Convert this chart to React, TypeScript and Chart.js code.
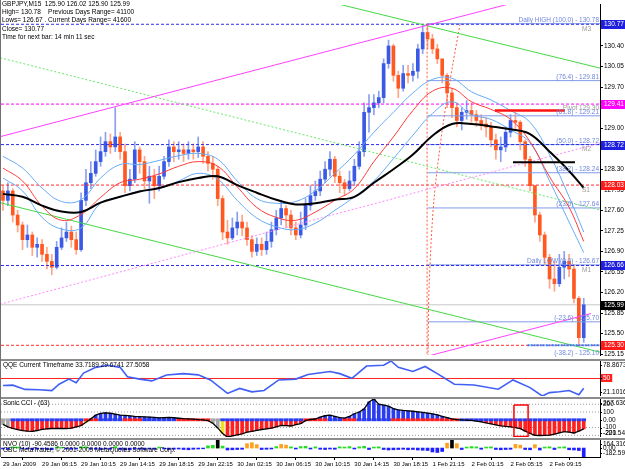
import React, { useEffect, useRef } from "react";
import { Chart, registerables } from "chart.js";

Chart.register(...registerables);

const FONT = '"Liberation Sans", Arial, Helvetica, sans-serif';
const CANVAS_W = 625;
const X_MIN = -0.82;
const X_MAX = 244.67;

// ---------------- time axis ----------------
const timeTickIdx = [0, 16, 32, 48, 64, 80, 96, 112, 128, 144, 160, 176, 192, 208, 224];
const timeTickLabels = [
  "29 Jan 2009", "29 Jan 06:15", "29 Jan 10:15", "29 Jan 14:15", "29 Jan 18:15",
  "29 Jan 22:15", "30 Jan 02:15", "30 Jan 06:15", "30 Jan 10:15", "30 Jan 14:15",
  "30 Jan 18:15", "1 Feb 21:15", "2 Feb 01:15", "2 Feb 05:15", "2 Feb 09:15",
];

const headerLines = [
  "GBPJPY,M15  125.90 126.02 125.90 125.99",
  "High= 130.78    Previous Days Range= 41100",
  "Lows= 126.67 . Current Days Range= 41600",
  "Close= 130.77",
  "Time for next bar: 14 min 11 sec",
];

// ---------------- price candles ----------------
const firstOpen = 127.93;
const closes = [
  127.77, 127.93, 127.52, 127.35, 127.10, 127.18, 126.97, 127.02, 126.85, 126.73,
  126.63, 126.97, 127.13, 127.23, 127.10, 126.93, 127.77, 128.07, 128.23, 128.43,
  128.60, 128.77, 128.68, 128.85, 128.60, 128.02, 128.13, 128.63, 128.43, 128.10,
  128.18, 128.02, 128.18, 128.43, 128.68, 128.60, 128.63, 128.57, 128.63, 128.60,
  128.68, 128.52, 128.40, 128.30, 127.80, 127.23, 127.13, 127.30, 127.40, 127.30,
  127.10, 126.90, 127.02, 126.93, 127.07, 127.27, 127.47, 127.63, 127.52, 127.30,
  127.18, 127.35, 127.68, 127.85, 127.93, 128.13, 128.30, 128.47, 128.18, 128.07,
  127.97, 128.10, 128.35, 128.60, 129.27, 129.35, 129.43, 129.52, 130.10, 130.40,
  129.90, 129.68, 129.93, 129.90, 129.97, 130.35, 130.63, 130.52, 130.35, 130.18,
  129.90, 129.60, 129.35, 129.13, 129.27, 129.30, 129.23, 129.13, 129.07, 129.02,
  128.80, 128.63, 128.68, 128.93, 129.13, 129.10, 128.77, 128.47, 128.02, 127.52,
  127.18, 126.80, 126.43, 126.35, 126.63, 126.73, 126.60, 126.10, 125.43, 125.99,
];
const highs = [
  128.02, 128.07, 127.97, 127.60, 127.40, 127.35, 127.23, 127.13, 127.10, 126.97,
  126.85, 127.07, 127.30, 127.40, 127.33, 127.23, 127.90, 128.30, 128.43, 128.63,
  128.85, 128.93, 128.90, 129.35, 128.93, 128.73, 128.30, 128.77, 128.68, 128.52,
  128.35, 128.30, 128.35, 128.52, 128.80, 128.77, 128.77, 128.73, 128.77, 128.73,
  128.85, 128.77, 128.60, 128.52, 128.35, 127.85, 127.43, 127.47, 127.57, 127.52,
  127.40, 127.17, 127.13, 127.13, 127.23, 127.40, 127.60, 127.77, 127.68, 127.60,
  127.40, 127.57, 127.80, 128.02, 128.10, 128.27, 128.43, 128.60, 128.52, 128.27,
  128.13, 128.27, 128.47, 128.77, 129.43, 129.57, 129.57, 129.63, 130.18, 130.50,
  130.43, 129.97, 130.07, 130.07, 130.10, 130.43, 130.77, 130.77, 130.60, 130.43,
  130.18, 129.93, 129.68, 129.43, 129.35, 129.47, 129.43, 129.30, 129.23, 129.18,
  129.10, 128.90, 128.85, 129.02, 129.23, 129.27, 129.13, 128.80, 128.52, 128.02,
  127.57, 127.23, 126.85, 126.73, 126.85, 126.90, 126.85, 126.68, 126.13, 126.10,
];
const lows = [
  127.60, 127.68, 127.40, 127.23, 126.93, 126.97, 126.83, 126.80, 126.73, 126.60,
  126.50, 126.60, 126.93, 127.07, 126.97, 126.85, 126.90, 127.68, 127.97, 128.18,
  128.35, 128.52, 128.57, 128.60, 128.47, 127.90, 127.93, 128.07, 128.23, 127.97,
  127.72, 127.80, 127.93, 128.13, 128.35, 128.43, 128.47, 128.43, 128.47, 128.47,
  128.50, 128.40, 128.27, 128.13, 127.68, 127.10, 127.02, 127.10, 127.18, 127.17,
  127.00, 126.80, 126.83, 126.83, 126.85, 126.97, 127.18, 127.35, 127.30, 127.18,
  127.10, 127.13, 127.27, 127.60, 127.77, 127.85, 128.07, 128.18, 128.07, 127.90,
  127.85, 127.93, 128.02, 128.30, 128.52, 128.93, 129.23, 129.35, 129.43, 130.02,
  129.80, 129.52, 129.63, 129.77, 129.80, 129.85, 130.27, 130.35, 130.27, 130.10,
  129.77, 129.35, 129.18, 129.02, 128.97, 129.15, 129.10, 129.03, 128.97, 128.85,
  128.68, 128.47, 128.43, 128.60, 128.85, 128.97, 128.63, 128.35, 127.93, 127.40,
  127.07, 126.68, 126.27, 126.22, 126.30, 126.43, 126.47, 126.02, 125.30, 125.35,
];
const candleIdx = closes.map((_, i) => i * 2);

// ---------------- moving averages / bands (read every 8 bars) ----------------
const maIdx = [0, 8, 16, 24, 32, 40, 48, 56, 64, 72, 80, 88, 96, 104, 112, 120, 128, 136, 144, 152, 160, 168, 176, 184, 192, 200, 208, 216, 224, 232, 238];
const maBlack = [127.88, 127.83, 127.68, 127.58, 127.57, 127.73, 127.83, 127.92, 127.98, 128.08, 128.15, 128.18, 128.03, 127.90, 127.78, 127.70, 127.72, 127.78, 127.83, 128.07, 128.30, 128.55, 128.87, 129.07, 129.07, 129.03, 128.98, 128.90, 128.60, 128.27, 127.98];
const maRed = [128.32, 128.10, 127.67, 127.43, 127.53, 127.82, 128.07, 128.13, 128.22, 128.35, 128.43, 128.35, 128.00, 127.65, 127.48, 127.43, 127.57, 127.77, 127.97, 128.43, 128.85, 129.30, 129.63, 129.68, 129.45, 129.32, 129.15, 128.77, 128.17, 127.65, 127.07];
const bandUpper = [128.52, 128.32, 127.98, 127.75, 127.78, 128.15, 128.38, 128.38, 128.45, 128.53, 128.57, 128.47, 128.10, 127.80, 127.72, 127.75, 127.93, 128.23, 128.55, 128.93, 129.27, 129.60, 129.83, 129.85, 129.62, 129.48, 129.30, 129.10, 128.55, 127.83, 127.23];
const bandLower = [128.15, 127.93, 127.48, 127.28, 127.30, 127.72, 127.83, 127.93, 127.97, 128.10, 128.23, 128.13, 127.77, 127.47, 127.32, 127.27, 127.38, 127.60, 127.83, 128.10, 128.48, 128.88, 129.25, 129.45, 129.23, 129.15, 128.97, 128.75, 128.10, 127.40, 126.88];

const priceTicks = [125.15, 125.5, 125.85, 126.2, 126.55, 126.9, 127.25, 127.6, 127.95, 128.3, 128.65, 129.0, 129.35, 129.7, 130.05, 130.4, 130.75];
const PRICE_MIN = 125.133;
const PRICE_MAX = 131.1;

const levelPrices = [130.77, 129.41, 128.72, 128.03, 126.66, 125.3];
const levelColors = ["#2b2be8", "#ff00ff", "#2b2be8", "#ff2b2b", "#2b2be8", "#ff2b2b"];
const fibPrices = [130.78, 129.81, 129.21, 128.72, 128.24, 127.64, 126.67, 125.7, 125.1];
const fibTexts = [
  "Daily HIGH (100.0) - 130.78", "(76.4) - 129.81", "(61.8) - 129.21", "(50.0) - 128.72",
  "(38.2) - 128.24", "(23.6) - 127.64", "Daily LOW (0.0) - 126.67", "(-23.6) - 125.70", "(-38.2) - 125.10",
];
const fibStart = 174;
const axisBoxPrices = [130.77, 129.41, 128.72, 128.03, 126.66, 125.99, 125.3];
const axisBoxColors = ["#1f1fe0", "#ff00ff", "#1f1fe0", "#ff1a1a", "#1f1fe0", "#000000", "#ff1a1a"];
const bidPrice = 125.99;
const pivotNames = ["M3", "M2", "S1", "M1"];
const pivotPrices = [130.77, 128.72, 128.03, 126.66];
const pivotLabel = "Pivot 129.30";
const pivotPrice = 129.3;

// trend lines as [bar index, price]
const channelUpper = [[-1.6, 128.85], [216, 131.21]];
const channelLower = [[168, 125.05], [241, 125.84]];
const channelMid = [[-1.2, 126.0], [245, 128.75]];
const greenUpper = [[134, 131.15], [245, 130.02]];
const greenLower = [[-1.2, 127.73], [245, 125.18]];
const greenDotted = [[-1.2, 130.2], [245, 127.6]];
const timeLine = [[173.8, 130.78], [173.8, 125.13]];
const fiboArc = [[187.3, 130.77], [184.4, 130.1], [180.3, 129.05], [176.6, 127.77], [174.6, 126.27], [174.2, 125.13]];
const pivotBar = [[201.6, 129.3], [230.3, 129.3]];
const supportBar = [[209, 128.42], [234.4, 128.42]];
const lowBar = [[215, 125.3], [245, 125.3]];

// ---------------- QQE ----------------
const qqeIdx = [0, 4, 9, 15, 20, 23, 27, 30, 33, 38, 43, 48, 51, 56, 61, 67, 74, 80, 85, 92, 97, 102, 107, 113, 120, 125, 134, 138, 143, 149, 156, 159, 162, 168, 173, 178, 185, 193, 203, 209, 216, 221, 224, 228, 232, 236, 238];
const qqeVal = [38.5, 39, 32, 31.5, 30, 40.6, 49, 43, 59, 68.4, 71.9, 68.4, 53, 49, 46, 55.9, 58, 56, 47.6, 25.3, 33.6, 28, 30.2, 47.6, 49, 56.6, 61.5, 58, 50.3, 70.5, 71.9, 78.8673, 68.4, 61.5, 69.8, 58, 40.6, 39.2, 32.2, 47.6, 35, 21.1016, 26.7, 28.1, 30.2, 23.2, 33.7189];
const qqeMax = 78.8673;
const qqeMin = 21.1016;
const qqeLevel = 50;

// ---------------- Sonic CCI ----------------
const cciVal = [
  -60, -90, -112, -128, -140, -147, -150, -138, -124, -118,
  -112, -110, -112, -114, -108, -92, -75, -32, 12, 60,
  82, 90, 84, 72, 60, 56, 50, 44, 40, 37,
  35, 31, 25, 28, 30, 26, 20, 15, 12, 8,
  2, -2, -10, -45, -105, -177, -221.5, -208, -195, -180,
  -160, -148, -135, -125, -116, -108, -90, -72, -74, -80,
  -62, -48, -12, 4, 10, 35, 52, 60, 45, 28,
  22, 45, 78, 100, 140, 230, 267.6, 200, 190, 175,
  145, 128, 120, 115, 110, 102, 95, 86, 76, 62,
  45, 28, 12, 2, -2, -4, -8, -16, -26, -40,
  -52, -65, -78, -85, -90, -102, -115, -145, -175, -200,
  -202, -200, -198, -185, -168, -152, -158, -170, -145, -118,
];
const cciColorRuns: [string, number][] = [["g", 2], ["r", 15], ["y", 1], ["b", 23], ["r", 2], ["g", 2], ["y", 1], ["r", 17], ["y", 1], ["b", 30], ["r", 26]];
const cciStripRuns: [string, number][] = [["g", 2], ["b", 15], ["r", 3], ["b", 5], ["r", 4], ["b", 7], ["r", 7], ["g", 2], ["b", 17], ["r", 5], ["b", 3], ["r", 3], ["b", 7], ["r", 14], ["b", 26]];
const cciStripRange = [-14, 14];
const cciLevels = [200, 100, -100, -200];
const cciMax = 267.6363;
const cciMin = -221.5453;
const cciBox = [[209.4, 190], [215.2, 190], [215.2, -215], [209.4, -215], [209.4, 190]];

// ---------------- NVO ----------------
const nvoVal = [
  -20, -25, 25, 20, -15, -20, -30, -25, -20, -30,
  -35, 20, 15, -20, -25, -20, 30, 25, -20, -25,
  -30, -20, -25, 30, -30, -40, -35, -20, -25, -30,
  -20, -25, 20, -20, -30, -25, -20, -30, -35, -25,
  -20, -15, 45, 55, 164.3, 40, -40, -35, -30, -25,
  90, 110, 70, -30, -25, -20, 30, 75, 60, 25,
  -20, 30, 35, -20, 25, -25, -30, -20, -25, 25,
  20, 30, -20, 25, 35, -30, 20, 25, -30, -40,
  -35, -30, -25, -35, -30, -40, -45, -50, -80, -90,
  -70, 100, 164.3, 90, -30, 20, 30, 25, -25, 20,
  25, -30, -35, -30, -25, 75, 60, -30, -35, 70,
  -40, 20, 25, -30, 20, 25, -35, -40, -50, -182.59,
];
const nvoOrange = [50, 51, 52, 57, 58, 91, 93, 105, 106, 109];
const nvoBlack = [44, 92];
const nvoMax = 164.3162;
const nvoMin = -182.59;

// ---------------- helpers ----------------
const expandRuns = (runs: [string, number][]) => runs.flatMap(([c, n]) => Array(n).fill(c));
const CODE_COLORS: Record<string, string> = { g: "#a8a8a8", r: "#ff2020", b: "#2a3cf0", y: "#f0e020" };

function txt(ctx: any, s: string, x: number, y: number, color: string, align: string = "left", size = 6.5) {
  ctx.font = `${size}px ${FONT}`;
  ctx.fillStyle = color;
  ctx.textAlign = align;
  ctx.textBaseline = "middle";
  ctx.fillText(s, x, y);
}

function hLine(v: number, x0: number, x1: number, color: string, width: number, dash: number[], order: number) {
  return { type: "line", data: [{ x: x0, y: v }, { x: x1, y: v }], borderColor: color, borderWidth: width, borderDash: dash, pointRadius: 0, fill: false, tension: 0, order };
}
function pLine(points: number[][], color: string, width: number, dash: number[], order: number, tension = 0) {
  return { type: "line", data: points.map(([x, y]) => ({ x, y })), borderColor: color, borderWidth: width, borderDash: dash, pointRadius: 0, fill: false, tension, order };
}

const baseOptions = () => ({
  responsive: false,
  animation: false,
  events: [],
  plugins: { legend: { display: false }, tooltip: { enabled: false } },
  layout: { padding: { left: 1, right: 0, top: 0, bottom: 0 } },
});

const hiddenX = () => ({ type: "linear", min: X_MIN, max: X_MAX, offset: false, display: false });
const panelY = (min: number, max: number) => ({
  type: "linear", position: "right", min, max,
  afterFit: (s: any) => { s.width = CANVAS_W - 600; },
  ticks: { display: false },
  grid: { display: false },
  border: { display: true, color: "#000" },
});

function panelOverlay(titles: string[], labels: [number, string, string?][]) {
  return {
    id: "panelOverlay",
    afterDraw(chart: any) {
      const { ctx, chartArea: a, scales } = chart;
      const y = scales.y;
      ctx.save();
      titles.forEach((t, k) => txt(ctx, t, 3, a.top + 4 + k * 6, "#000"));
      labels.forEach(([v, s, bg]) => {
        let py = y.getPixelForValue(v);
        py = Math.min(Math.max(py, a.top + 4), a.bottom - 4);
        ctx.font = `6.5px ${FONT}`;
        if (bg) {
          ctx.fillStyle = bg;
          ctx.fillRect(a.right + 1, Math.round(py) - 4, ctx.measureText(s).width + 4, 8);
        }
        ctx.fillStyle = "#000";
        ctx.fillRect(a.right, Math.round(py), 2, 1);
        txt(ctx, s, a.right + 3, py, bg ? "#fff" : "#000");
      });
      ctx.restore();
    },
  };
}

// ---------------- configs ----------------
function mainConfig(): any {
  const opens = closes.map((c, i) => (i === 0 ? firstOpen : closes[i - 1]));
  const up = closes.map((c, i) => c >= opens[i]);
  const ds: any[] = [];
  ds.push({ type: "bar", data: candleIdx.map((x, i) => ({ x, y: [lows[i], highs[i]] })), backgroundColor: up.map((u) => (u ? "#8aa0f0" : "#ffa585")), barThickness: 1, grouped: false, order: 40 });
  ds.push({ type: "bar", data: candleIdx.map((x, i) => ({ x, y: [opens[i], closes[i]] })), backgroundColor: up.map((u) => (u ? "#3a5ae6" : "#ff5820")), barThickness: 3, grouped: false, minBarLength: 1, order: 39 });
  ds.push(hLine(bidPrice, X_MIN, X_MAX, "#c8c8c8", 1, [], 45));
  levelPrices.forEach((p, k) => ds.push(hLine(p, X_MIN, X_MAX, levelColors[k], 1, [3, 2], 20)));
  fibPrices.forEach((p) => ds.push(hLine(p, fibStart, X_MAX, "#7f9ae8", 1, [], 21)));
  ds.push(pLine(channelUpper, "#ff40ff", 1, [], 10));
  ds.push(pLine(channelLower, "#ff40ff", 1, [], 10));
  ds.push(pLine(channelMid, "#ff88ff", 1, [2, 2], 10));
  ds.push(pLine(greenUpper, "#44d844", 1, [], 10));
  ds.push(pLine(greenLower, "#44d844", 1, [], 10));
  ds.push(pLine(greenDotted, "#66e866", 1, [2, 2], 10));
  ds.push(pLine(timeLine, "#ff5a3c", 1, [2, 2], 10));
  ds.push(pLine(fiboArc, "#ff5a3c", 1, [2, 2], 10, 0.3));
  ds.push(pLine(lowBar, "#2f7cff", 2, [2, 1], 9));
  ds.push(pLine(maIdx.map((x, k) => [x, bandUpper[k]]), "#66aaf5", 1, [], 4, 0.4));
  ds.push(pLine(maIdx.map((x, k) => [x, bandLower[k]]), "#66aaf5", 1, [], 4, 0.4));
  ds.push(pLine(maIdx.map((x, k) => [x, maRed[k]]), "#ff3a3a", 1, [], 3, 0.4));
  ds.push(pLine(maIdx.map((x, k) => [x, maBlack[k]]), "#000000", 2, [], 2, 0.4));
  ds.push(pLine(pivotBar, "#ff1010", 2.5, [], 1));
  ds.push(pLine(supportBar, "#000000", 2, [], 1));

  const overlay = {
    id: "mainOverlay",
    afterDraw(chart: any) {
      const { ctx, chartArea: a, scales } = chart;
      const y = scales.y;
      ctx.save();
      headerLines.forEach((s, k) => txt(ctx, s, 2, [4, 12, 20, 29, 37][k], "#000"));
      fibPrices.forEach((p, k) => txt(ctx, fibTexts[k], a.right - 1, y.getPixelForValue(p) - 3.5, "#6f87dc", "right"));
      pivotNames.forEach((s, k) => txt(ctx, s, a.right - 18, y.getPixelForValue(pivotPrices[k]) + 5, "#9a9a9a"));
      txt(ctx, pivotLabel, a.right - 1, y.getPixelForValue(pivotPrice) - 2.5, "#9a9a9a", "right");
      axisBoxPrices.forEach((p, k) => {
        const py = Math.round(y.getPixelForValue(p));
        ctx.fillStyle = axisBoxColors[k];
        ctx.fillRect(a.right + 1, py - 4, CANVAS_W - a.right - 1, 9);
        txt(ctx, p.toFixed(2), a.right + 4, py + 0.5, "#fff");
      });
      ctx.restore();
    },
  };

  return {
    type: "bar",
    data: { datasets: ds },
    options: {
      ...baseOptions(),
      layout: { padding: { left: 1, right: 0, top: 0, bottom: 2 } },
      scales: {
        x: hiddenX(),
        y: {
          type: "linear", position: "right", min: PRICE_MIN, max: PRICE_MAX,
          afterBuildTicks: (s: any) => { s.ticks = priceTicks.map((v) => ({ value: v })); },
          afterFit: (s: any) => { s.width = CANVAS_W - 600; },
          ticks: { autoSkip: false, padding: 1, color: "#000", font: { size: 6.5, family: FONT }, callback: (v: any) => Number(v).toFixed(2) },
          grid: { display: true, drawOnChartArea: false, drawTicks: true, tickLength: 3, color: "#000" },
          border: { display: true, color: "#000" },
        },
      },
    },
    plugins: [overlay],
  };
}

function qqeConfig(): any {
  return {
    type: "bar",
    data: {
      datasets: [
        hLine(qqeLevel, X_MIN, X_MAX, "#ff2020", 1, [], 5),
        pLine(qqeIdx.map((x, k) => [x, qqeVal[k]]), "#3f5ff5", 1.6, [], 1),
      ],
    },
    options: { ...baseOptions(), scales: { x: hiddenX(), y: panelY(qqeMin, qqeMax) } },
    plugins: [panelOverlay(["QQE Current Timeframe 33.7189 29.6741 27.5058"], [[qqeMax, "78.8673"], [qqeLevel, "50", "#ff2020"], [qqeMin, "21.1016"]])],
  };
}

function cciConfig(): any {
  const histCodes = expandRuns(cciColorRuns);
  const stripCodes = expandRuns(cciStripRuns);
  const ds: any[] = [];
  cciLevels.forEach((v) => ds.push(hLine(v, X_MIN, X_MAX, "#9a9a9a", 1, [1, 2], 30)));
  ds.push({ type: "bar", data: candleIdx.map((x, i) => ({ x, y: cciVal[i] })), backgroundColor: histCodes.map((c) => CODE_COLORS[c]), barThickness: 3, grouped: false, order: 20 });
  ds.push({ type: "bar", data: candleIdx.map((x) => ({ x, y: cciStripRange })), backgroundColor: stripCodes.map((c) => CODE_COLORS[c]), barThickness: 4, grouped: false, order: 19 });
  ds.push(pLine(candleIdx.map((x, i) => [x, cciVal[i]]), "#000000", 1.3, [], 2));
  ds.push(pLine(cciBox, "#ff0000", 1.5, [], 1));
  return {
    type: "bar",
    data: { datasets: ds },
    options: { ...baseOptions(), scales: { x: hiddenX(), y: panelY(cciMin, cciMax) } },
    plugins: [panelOverlay(["Sonic CCI - (63)"], [[cciMax, "267.6363"], [200, "200"], [100, "100"], [0, "0.00"], [-100, "-100"], [-200, "-200"], [cciMin, "-221.5453"]])],
  };
}

function nvoConfig(): any {
  const colors = nvoVal.map((v, i) => (nvoBlack.includes(i) ? "#000000" : nvoOrange.includes(i) ? "#ffa020" : v >= 0 ? "#22dd22" : "#1f1fff"));
  return {
    type: "bar",
    data: { datasets: [{ type: "bar", data: candleIdx.map((x, i) => ({ x, y: nvoVal[i] })), backgroundColor: colors, barThickness: 3, grouped: false }] },
    options: {
      ...baseOptions(),
      scales: {
        x: {
          type: "linear", min: X_MIN, max: X_MAX, offset: false, position: "bottom",
          afterBuildTicks: (s: any) => { s.ticks = timeTickIdx.map((v) => ({ value: v })); },
          afterFit: (s: any) => { s.height = 12; },
          ticks: { autoSkip: false, maxRotation: 0, minRotation: 0, align: "start", padding: 1, color: "#000", font: { size: 6, family: FONT }, callback: (v: any, i: number) => timeTickLabels[i] },
          grid: { display: true, drawOnChartArea: false, drawTicks: true, tickLength: 3, color: "#000" },
          border: { display: true, color: "#000" },
        },
        y: panelY(nvoMin, nvoMax),
      },
    },
    plugins: [panelOverlay(["NVO (10) -90.4586 0.0000 0.0000 0.0000 0.0000", "GBC MetaTrader, \u00a9 2001-2009 MetaQuotes Software Corp."], [[nvoMax, "164.3162"], [0, "0.00"], [nvoMin, "-182.590"]])],
  };
}

const sep = (top: number): React.CSSProperties => ({ position: "absolute", left: 0, top, width: CANVAS_W, height: 2, background: "#8c8c8c" });

export default function App() {
  const mainRef = useRef<HTMLCanvasElement>(null);
  const qqeRef = useRef<HTMLCanvasElement>(null);
  const cciRef = useRef<HTMLCanvasElement>(null);
  const nvoRef = useRef<HTMLCanvasElement>(null);

  useEffect(() => {
    Chart.defaults.font.family = FONT;
    const charts = [
      new Chart(mainRef.current as HTMLCanvasElement, mainConfig()),
      new Chart(qqeRef.current as HTMLCanvasElement, qqeConfig()),
      new Chart(cciRef.current as HTMLCanvasElement, cciConfig()),
      new Chart(nvoRef.current as HTMLCanvasElement, nvoConfig()),
    ];
    return () => charts.forEach((c) => c.destroy());
  }, []);

  const abs = (top: number): React.CSSProperties => ({ position: "absolute", left: 0, top });
  return (
    <div style={{ position: "fixed", left: 0, top: 0, width: 625, height: 469, background: "#fff", overflow: "hidden" }}>
      <canvas ref={mainRef} width={625} height={360} style={abs(0)} />
      <canvas ref={qqeRef} width={625} height={35} style={abs(361)} />
      <canvas ref={cciRef} width={625} height={38} style={abs(399)} />
      <canvas ref={nvoRef} width={625} height={29} style={abs(440)} />
      <div style={sep(358.5)} />
      <div style={sep(396.5)} />
      <div style={sep(437.5)} />
      <div style={{ position: "absolute", left: 0, top: 0, width: 1, height: 457, background: "#707070" }} />
    </div>
  );
}
